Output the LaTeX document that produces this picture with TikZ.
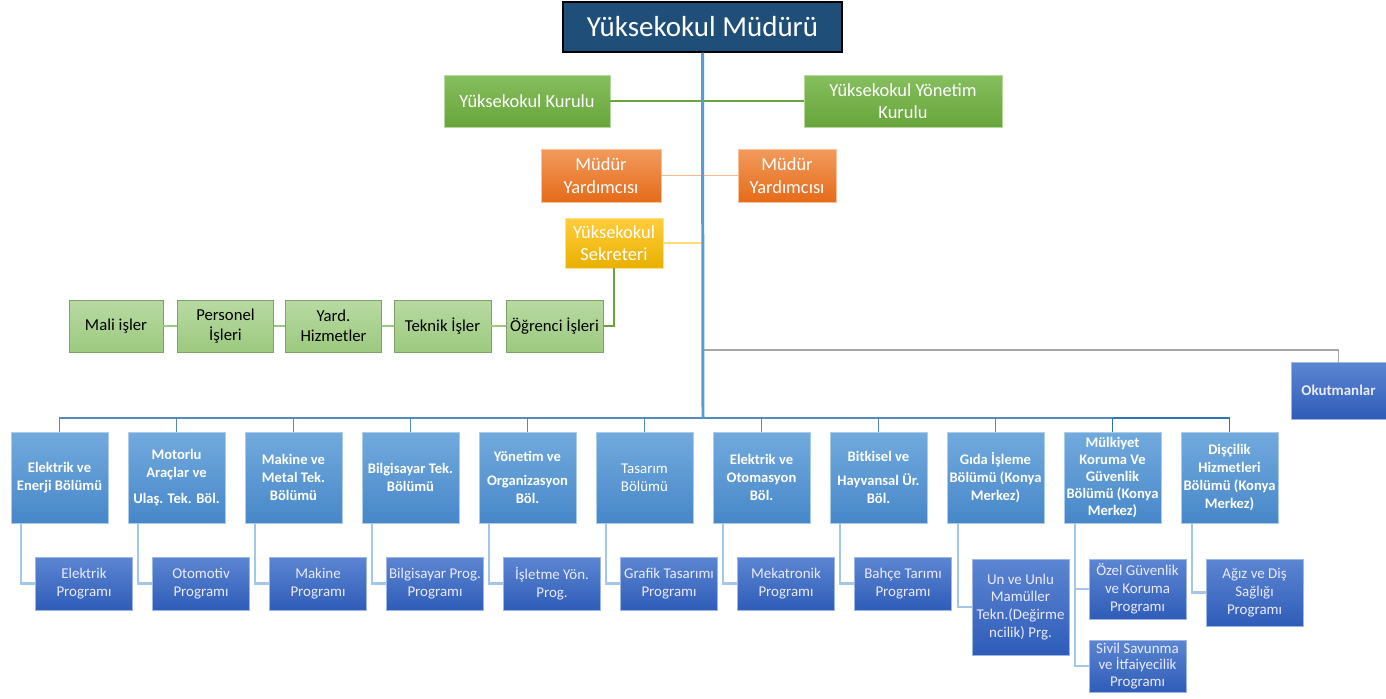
\documentclass[tikz,border=0pt]{standalone}
\usepackage{fontspec}
\setmainfont{Carlito}
\usetikzlibrary{calc}
\definecolor{navy}{HTML}{1F4E79}
\definecolor{grtop}{HTML}{86BE5E}
\definecolor{grbot}{HTML}{68A53B}
\definecolor{lgtop}{HTML}{B8DAA2}
\definecolor{lgbot}{HTML}{9CC97F}
\definecolor{ortop}{HTML}{F29A5C}
\definecolor{orbot}{HTML}{E56B1A}
\definecolor{yetop}{HTML}{FFCD3C}
\definecolor{yebot}{HTML}{E9B000}
\definecolor{bltop}{HTML}{72AADD}
\definecolor{blbot}{HTML}{4787C9}
\definecolor{prtop}{HTML}{5C86D2}
\definecolor{prbot}{HTML}{2F5CB8}
\definecolor{mainblue}{HTML}{5B9BD5}
\definecolor{darkblue}{HTML}{2E75B6}
\definecolor{paleblue}{HTML}{A4C6E8}
\tikzset{
	box/.style={inner sep=0pt, align=center, text=white},
	headbox/.style={box, fill=navy, draw=black, line width=0.8pt, minimum width=5.58cm, minimum height=1cm, font=\fontsize{16.5}{20}\selectfont},
	kurulbox/.style={box, top color=grtop, bottom color=grbot, draw=grtop!60, minimum height=1.04cm, font=\fontsize{10.5}{12.5}\selectfont},
	yardbox/.style={box, top color=ortop, bottom color=orbot, draw=ortop!60, minimum height=1.06cm, font=\fontsize{10.5}{12.8}\selectfont},
	sekbox/.style={box, top color=yetop, bottom color=yebot, draw=yetop!60, minimum width=1.96cm, minimum height=1cm, font=\fontsize{10.5}{12.8}\selectfont},
	birimbox/.style={box, text=black, top color=lgtop, bottom color=lgbot, draw=lgbot!80!black, line width=0.3pt, minimum width=1.92cm, minimum height=1.04cm, font=\fontsize{9.5}{11.3}\selectfont},
	bolumbox/.style={box, top color=bltop, bottom color=blbot, draw=bltop!60, minimum width=1.94cm, minimum height=1.82cm, font=\bfseries\fontsize{8.3}{10.3}\selectfont},
	progbox/.style={box, text=white!92!blue, top color=prtop, bottom color=prbot, draw=prtop!60, minimum width=1.94cm, minimum height=1.06cm, font=\fontsize{8.5}{10.2}\selectfont},
	mainline/.style={draw=mainblue, line width=1.7pt},
	busline/.style={draw=mainblue!90!black, line width=1.1pt},
	darkbus/.style={draw=darkblue, line width=1.1pt},
	progline/.style={draw=paleblue, line width=1.2pt},
	greenline/.style={draw=grbot, line width=0.7pt},
	orangeline/.style={draw=ortop!70, line width=0.9pt},
	yellowline/.style={draw=yetop!70, line width=0.9pt},
	unitline/.style={draw=lgbot, line width=0.9pt},
	okutline/.style={draw=black!35, line width=0.8pt}
}

\begin{document}
\begin{tikzpicture}[x=0.02cm, y=-0.02cm]
		%%%%% START %%%%%
		\useasboundingbox (0, 0) rectangle (1386, 699);
		
		\node[headbox] (boss) at (702.5, 27) {Yüksekokul Müdürü};
		
		\node[kurulbox, minimum width=3.32cm] (kurul) at (527, 101) {Yüksekokul Kurulu};
		\node[kurulbox, minimum width=3.96cm] (yonkurul) at (903, 101) {Yüksekokul Yönetim\\Kurulu};
		
		\node[yardbox, minimum width=2.4cm] (yard1) at (601, 175.5) {Müdür\\Yardımcısı};
		\node[yardbox, minimum width=1.96cm] (yard2) at (787, 175.5) {Müdür\\Yardımcısı};
		
		\node[sekbox] (sek) at (614, 243) {Yüksekokul\\Sekreteri};
		
		\node[birimbox, minimum width=1.88cm] (mali) at (116, 326) {Mali işler};
		\node[birimbox] (personel) at (225.5, 326) {Personel\\İşleri};
		\node[birimbox] (hizmet) at (333.5, 326) {Yard.\\Hizmetler};
		\node[birimbox, minimum width=1.94cm] (teknik) at (442.5, 326) {Teknik İşler};
		\node[birimbox, minimum width=1.94cm] (ogrenci) at (554.5, 326) {Öğrenci İşleri};
		
		\node[progbox, minimum width=1.9cm, minimum height=1.14cm, font=\bfseries\fontsize{8.5}{10}\selectfont] (okut) at (1338.5, 390.5) {Okutmanlar};
		
		\coordinate (okjoin) at (703, 350);
		\coordinate (bus) at (703, 418);
		
		% bolumler
		\node[bolumbox] (d1) at (59.5, 477.5) {Elektrik ve\\Enerji Bölümü};
		\node[bolumbox] (d2) at (176.5, 477.5) {Motorlu\\Araçlar ve\\[4pt]Ulaş. Tek. Böl.};
		\node[bolumbox] (d3) at (293.5, 477.5) {Makine ve\\Metal Tek.\\Bölümü};
		\node[bolumbox] (d4) at (410.5, 477.5) {Bilgisayar Tek.\\Bölümü};
		\node[bolumbox] (d5) at (527.5, 477.5) {Yönetim ve\\[3pt]Organizasyon\\Böl.};
		\node[bolumbox, font=\fontsize{8.5}{10.3}\selectfont] (d6) at (644.5, 477.5) {Tasarım\\Bölümü};
		\node[bolumbox] (d7) at (761.5, 477.5) {Elektrik ve\\Otomasyon\\Böl.};
		\node[bolumbox] (d8) at (878.5, 477.5) {Bitkisel ve\\[3pt]Hayvansal Ür.\\Böl.};
		\node[bolumbox] (d9) at (995.5, 477.5) {Gıda İşleme\\Bölümü (Konya\\Merkez)};
		\node[bolumbox, font=\bfseries\fontsize{8.3}{9.8}\selectfont] (d10) at (1112.5, 477.5) {Mülkiyet\\Koruma Ve\\Güvenlik\\Bölümü (Konya\\Merkez)};
		\node[bolumbox] (d11) at (1229.5, 477.5) {Dişçilik\\Hizmetleri\\Bölümü (Konya\\Merkez)};
		
		% programlar
		\node[progbox] (p1) at (84, 583.5) {Elektrik\\Programı};
		\node[progbox] (p2) at (201, 583.5) {Otomotiv\\Programı};
		\node[progbox] (p3) at (318, 583.5) {Makine\\Programı};
		\node[progbox] (p4) at (435, 583.5) {Bilgisayar Prog.\\Programı};
		\node[progbox] (p5) at (552, 583.5) {İşletme Yön.\\Prog.};
		\node[progbox] (p6) at (669, 583.5) {Grafik Tasarımı\\Programı};
		\node[progbox] (p7) at (786, 583.5) {Mekatronik\\Programı};
		\node[progbox] (p8) at (903, 583.5) {Bahçe Tarımı\\Programı};
		\node[progbox, minimum height=1.92cm] (p9) at (1020.5, 607) {Un ve Unlu\\Mamüller\\Tekn.(Değirme\\ncilik) Prg.};
		\node[progbox, minimum height=1.2cm] (p10) at (1137.5, 589) {Özel Güvenlik\\ve Koruma\\Programı};
		\node[progbox, minimum height=1.04cm, font=\fontsize{8.5}{9.6}\selectfont] (p11) at (1137.5, 666) {Sivil Savunma\\ve İtfaiyecilik\\Programı};
		\node[progbox, minimum height=1.34cm] (p12) at (1254.5, 592.5) {Ağız ve Diş\\Sağlığı\\Programı};
		
		% baglantilar
		\draw[greenline] (kurul.east) -- (yonkurul.west);
		\draw[orangeline] (yard1.east) -- (yard2.west);
		\draw[yellowline] (sek.east) -- (sek.east -| bus);
		\draw[greenline] (sek.south) |- (ogrenci.east);
		\draw[unitline] (mali.east) -- (personel.west);
		\draw[unitline] (personel.east) -- (hizmet.west);
		\draw[unitline] (hizmet.east) -- (teknik.west);
		\draw[unitline] (teknik.east) -- (ogrenci.west);
		\draw[okutline] (okjoin) -| (okut.north);
		
		\draw[busline] (bus) -| (d1.north);
		\draw[busline] (bus) -| (d2.north);
		\draw[busline] (bus) -| (d3.north);
		\draw[busline] (bus) -| (d4.north);
		\draw[busline] (bus) -| (d5.north);
		\draw[busline] (bus) -| (d6.north);
		\draw[busline] (bus) -| (d7.north);
		\draw[busline] (bus) -| (d8.north);
		\draw[busline] (bus) -| (d9.north);
		\draw[busline] (bus) -| (d10.north);
		\draw[darkbus] (bus -| d10.north) -| (d11.north);
		\draw[darkbus] (bus -| d10.north) -- (d10.north);
		
		\draw[mainline] (boss.south) -- (bus);
		
		\draw[progline] ([xshift=0.2cm]d1.south west) |- (p1.west);
		\draw[progline] ([xshift=0.2cm]d2.south west) |- (p2.west);
		\draw[progline] ([xshift=0.2cm]d3.south west) |- (p3.west);
		\draw[progline] ([xshift=0.2cm]d4.south west) |- (p4.west);
		\draw[progline] ([xshift=0.2cm]d5.south west) |- (p5.west);
		\draw[progline] ([xshift=0.2cm]d6.south west) |- (p6.west);
		\draw[progline] ([xshift=0.2cm]d7.south west) |- (p7.west);
		\draw[progline] ([xshift=0.2cm]d8.south west) |- (p8.west);
		\draw[progline] ([xshift=0.22cm]d9.south west) |- (p9.west);
		\draw[progline] ([xshift=0.22cm]d10.south west) |- (p10.west);
		\draw[progline] ([xshift=0.22cm]d10.south west) |- (p11.west);
		\draw[progline] ([xshift=0.22cm]d11.south west) |- (p12.west);
		
		%%%%% END %%%%%
\end{tikzpicture}
\end{document}
